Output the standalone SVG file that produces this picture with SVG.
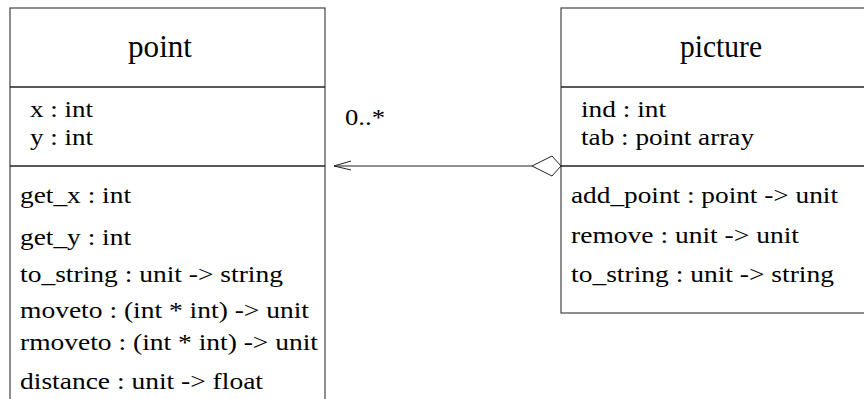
<svg xmlns="http://www.w3.org/2000/svg" width="864" height="399" viewBox="0 0 864 399">
  <style>
    .box { fill: #fff; stroke: #444; stroke-width: 1.2; }
    .sep { stroke: #222; stroke-width: 1.5; }
    text { font-family: 'Liberation Serif', 'Times New Roman', serif; fill: #000; }
    .title { font-size: 31px; text-anchor: middle; }
    .txt { font-size: 23px; }
    .conn { fill: none; stroke: #222; stroke-width: 1; }
  </style>

  <!-- class "point": name, attributes, methods -->
  <g id="point">
    <rect class="box" x="10" y="8" width="315" height="400"/>
    <line class="sep" x1="10" y1="87" x2="325" y2="87"/>
    <line class="sep" x1="10" y1="166" x2="325" y2="166"/>
    <text class="title" x="160" y="57" textLength="64" lengthAdjust="spacingAndGlyphs">point</text>
    <text class="txt" x="30" y="117" textLength="63" lengthAdjust="spacingAndGlyphs">x : int</text>
    <text class="txt" x="30" y="145" textLength="63" lengthAdjust="spacingAndGlyphs">y : int</text>
    <text class="txt" x="20" y="203" textLength="111" lengthAdjust="spacingAndGlyphs">get_x : int</text>
    <text class="txt" x="20" y="245" textLength="111" lengthAdjust="spacingAndGlyphs">get_y : int</text>
    <text class="txt" x="20" y="282" textLength="263" lengthAdjust="spacingAndGlyphs">to_string : unit -&gt; string</text>
    <text class="txt" x="20" y="318" textLength="289" lengthAdjust="spacingAndGlyphs">moveto : (int * int) -&gt; unit</text>
    <text class="txt" x="20" y="350" textLength="298" lengthAdjust="spacingAndGlyphs">rmoveto : (int * int) -&gt; unit</text>
    <text class="txt" x="20" y="389" textLength="243" lengthAdjust="spacingAndGlyphs">distance : unit -&gt; float</text>
  </g>

  <!-- class "picture": name, attributes, methods -->
  <g id="picture">
    <rect class="box" x="561" y="8" width="330" height="305"/>
    <line class="sep" x1="561" y1="87" x2="891" y2="87"/>
    <line class="sep" x1="561" y1="166" x2="891" y2="166"/>
    <text class="title" x="721" y="57" textLength="82" lengthAdjust="spacingAndGlyphs">picture</text>
    <text class="txt" x="581" y="117" textLength="85" lengthAdjust="spacingAndGlyphs">ind : int</text>
    <text class="txt" x="581" y="145" textLength="173" lengthAdjust="spacingAndGlyphs">tab : point array</text>
    <text class="txt" x="571" y="203" textLength="267" lengthAdjust="spacingAndGlyphs">add_point : point -&gt; unit</text>
    <text class="txt" x="571" y="243" textLength="228" lengthAdjust="spacingAndGlyphs">remove : unit -&gt; unit</text>
    <text class="txt" x="571" y="282" textLength="263" lengthAdjust="spacingAndGlyphs">to_string : unit -&gt; string</text>
  </g>

  <!-- aggregation: picture (diamond end) holds 0..* points (open arrow end) -->
  <g id="connectors">
    <line class="conn" x1="334" y1="166" x2="532" y2="166"/>
    <polyline class="conn" points="351,161 334,166 351,170"/>
    <polygon class="conn" points="561,166 552,156 532,166 552,176" fill="#fff"/>
    <text class="txt" x="345" y="125" textLength="40" lengthAdjust="spacingAndGlyphs">0..*</text>
  </g>
</svg>
